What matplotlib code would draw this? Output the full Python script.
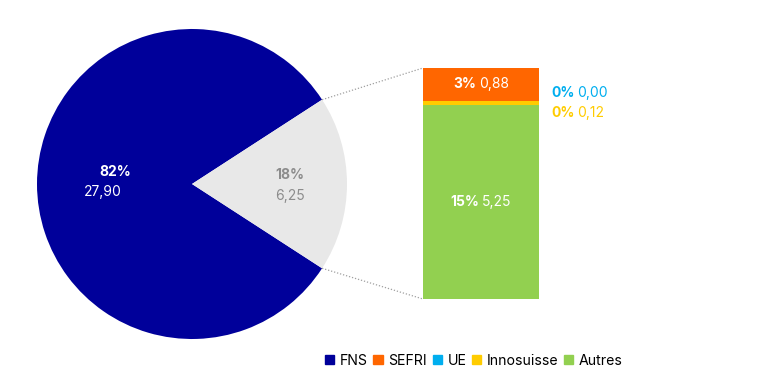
import numpy as np
import matplotlib.pyplot as plt
from matplotlib.patches import Rectangle

plt.rcParams['font.family'] = ['Inter', 'DejaVu Sans']

# pie: FNS vs other sources
pie_labels = ["FNS", "Autres sources"]
pie_values = [27.90, 6.25]
pie_pct = ["82%", "18%"]

# breakdown of the other sources (bottom to top in the bar)
bar_labels = ["Autres", "Innosuisse", "UE", "SEFRI"]
bar_values = [5.25, 0.12, 0.00, 0.88]
bar_pct = ["15%", "0%", "0%", "3%"]

legend_labels = ["FNS", "SEFRI", "UE", "Innosuisse", "Autres"]
colors = {
    "FNS": "#00009A",
    "SEFRI": "#FF6600",
    "UE": "#00AEEF",
    "Innosuisse": "#FFCC00",
    "Autres": "#92D050",
}
grey = "#E8E8E8"


def fmt(v):
    return f"{v:.2f}".replace(".", ",")


fig = plt.figure(figsize=(7.77, 3.85), dpi=100)
ax = fig.add_axes([0, 0, 1, 1])

# pie, grey wedge centred on the right
cx, cy, r = 192, 201, 155
other_angle = 360 * pie_values[1] / sum(pie_values)
ax.pie(
    pie_values,
    colors=[colors["FNS"], grey],
    startangle=other_angle / 2,
    center=(cx, cy),
    radius=r,
    frame=True,
)
ax.set_xlim(0, 777)
ax.set_ylim(0, 385)
ax.set_aspect("equal")
ax.axis("off")

ax.text(115, 213, pie_pct[0], color="white", fontsize=10, fontweight="bold",
        ha="center", va="center")
ax.text(103, 193, fmt(pie_values[0]), color="white", fontsize=10,
        ha="center", va="center")
ax.text(290, 210, pie_pct[1], color="#8C8C8C", fontsize=10, fontweight="bold",
        ha="center", va="center")
ax.text(290, 189, fmt(pie_values[1]), color="#8C8C8C", fontsize=10,
        ha="center", va="center")

# stacked bar
bx, bw, b0, bh = 481, 116, 86, 231
scale = bh / sum(bar_values)
bottom = b0
tops = []
for lab, v in zip(bar_labels, bar_values):
    ax.bar(bx, v * scale, width=bw, bottom=bottom, color=colors[lab])
    tops.append((bottom, v * scale))
    bottom += v * scale

# labels inside bar (Autres, SEFRI), bold pct + value centred together
renderer = fig.canvas.get_renderer()
gap = 3
for i in [0, 3]:
    yc = tops[i][0] + tops[i][1] / 2
    t1 = ax.text(0, yc, bar_pct[i], color="white", fontsize=10,
                 fontweight="bold", ha="left", va="center")
    t2 = ax.text(0, yc, fmt(bar_values[i]), color="white", fontsize=10,
                 ha="left", va="center")
    w1 = t1.get_window_extent(renderer).width
    w2 = t2.get_window_extent(renderer).width
    x0 = bx - (w1 + gap + w2) / 2
    t1.set_x(x0)
    t2.set_x(x0 + w1 + gap)

# small values outside bar
for i, yc in [(2, 292), (1, 272)]:
    c = colors[bar_labels[i]]
    ax.text(551, yc, bar_pct[i], color=c, fontsize=10, fontweight="bold",
            ha="left", va="center")
    ax.text(577, yc, fmt(bar_values[i]), color=c, fontsize=10,
            ha="left", va="center")

# dotted connectors
a = np.radians(other_angle / 2)
ax.plot([cx + r * np.cos(a), bx - bw / 2], [cy + r * np.sin(a), b0 + bh],
        color="#A0A0A0", lw=0.9, ls=(0, (1, 1.5)))
ax.plot([cx + r * np.cos(a), bx - bw / 2], [cy - r * np.sin(a), b0],
        color="#A0A0A0", lw=0.9, ls=(0, (1, 1.5)))

handles = [Rectangle((0, 0), 1, 1, color=colors[l]) for l in legend_labels]
fig.legend(handles, legend_labels, loc="center", bbox_to_anchor=(0.61, 0.063),
           ncol=5, frameon=False, fontsize=10.2, handlelength=0.65,
           handleheight=0.65, handletextpad=0.4, columnspacing=0.4,
           borderpad=0)

fig.savefig("out.png", dpi=100)
